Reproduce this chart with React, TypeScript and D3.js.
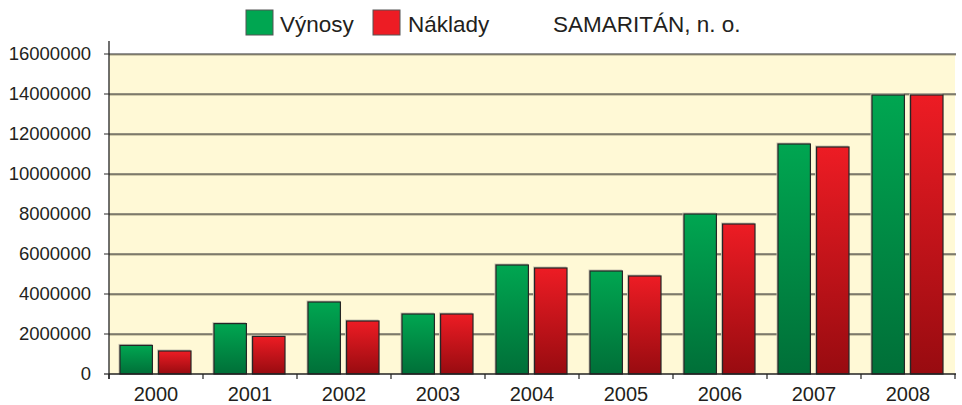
import React, { useEffect, useRef } from "react";
import * as d3 from "d3";

const years = ["2000", "2001", "2002", "2003", "2004", "2005", "2006", "2007", "2008"];
const vynosy = [1430000, 2520000, 3600000, 3000000, 5450000, 5150000, 8000000, 11500000, 13950000];
const naklady = [1150000, 1880000, 2650000, 3000000, 5300000, 4900000, 7500000, 11350000, 13950000];
const yTicks = [0, 2000000, 4000000, 6000000, 8000000, 10000000, 12000000, 14000000, 16000000];

export default function App() {
  const svgRef = useRef<SVGSVGElement>(null);

  useEffect(() => {
    const width = 962;
    const height = 405;
    const margin = { top: 54, right: 7, bottom: 31, left: 109 };
    const innerWidth = width - margin.left - margin.right;
    const innerHeight = height - margin.top - margin.bottom;

    const root = d3.select(svgRef.current);
    root.selectAll("*").remove();
    root.attr("width", width).attr("height", height);

    const defs = root.append("defs");
    const grad = (id: string, top: string, bottom: string) => {
      const g = defs.append("linearGradient").attr("id", id)
        .attr("x1", 0).attr("y1", 0).attr("x2", 0).attr("y2", 1);
      g.append("stop").attr("offset", "0%").attr("stop-color", top);
      g.append("stop").attr("offset", "100%").attr("stop-color", bottom);
    };
    grad("gGreen", "#00a651", "#006f38");
    grad("gRed", "#ed1c24", "#980b10");

    const font = "Liberation Sans, Arial, sans-serif";

    const svg = root.append("g").attr("transform", `translate(${margin.left},${margin.top})`);

    const x = d3.scaleBand().domain(years).range([0, innerWidth]).paddingInner(0).paddingOuter(0);
    const inner = d3.scaleBand().domain(["v", "n"]).range([11, x.bandwidth() - 12]).paddingInner(0.16);
    const y = d3.scaleLinear().domain([0, 16000000]).range([innerHeight, 0]);

    // plot background
    svg.append("rect")
      .attr("x", 0).attr("y", 0)
      .attr("width", innerWidth).attr("height", innerHeight)
      .attr("fill", "#fff9d6");

    // gridlines
    yTicks.filter(t => t > 0).forEach(t => {
      svg.append("line")
        .attr("x1", 0).attr("x2", innerWidth + 1)
        .attr("y1", y(t) + 1).attr("y2", y(t) + 1)
        .attr("stroke", "#a39d80").attr("stroke-width", 1);
      svg.append("line")
        .attr("x1", -5).attr("x2", innerWidth + 1)
        .attr("y1", y(t)).attr("y2", y(t))
        .attr("stroke", "#2b2b2b").attr("stroke-width", 1.2);
    });

    // bars
    const groups = svg.selectAll(".yr")
      .data(years)
      .enter()
      .append("g")
      .attr("transform", d => `translate(${x(d)},0)`);

    const series = [
      { key: "v", values: vynosy, fill: "url(#gGreen)" },
      { key: "n", values: naklady, fill: "url(#gRed)" },
    ];
    series.forEach(s => {
      groups.append("rect")
        .attr("x", () => (inner(s.key) as number) - 1.5)
        .attr("y", (_, i) => y(s.values[i]) - 1.5)
        .attr("width", inner.bandwidth() + 1)
        .attr("height", (_, i) => innerHeight - y(s.values[i]) + 1.5)
        .attr("fill", "#c9c4b0");
      groups.append("rect")
        .attr("x", () => inner(s.key) as number)
        .attr("y", (_, i) => y(s.values[i]))
        .attr("width", inner.bandwidth())
        .attr("height", (_, i) => innerHeight - y(s.values[i]))
        .attr("fill", s.fill)
        .attr("stroke", "#262626")
        .attr("stroke-width", 1.2);
    });

    // y axis
    svg.append("line")
      .attr("x1", 0).attr("x2", 0)
      .attr("y1", -13).attr("y2", innerHeight + 5)
      .attr("stroke", "#222").attr("stroke-width", 1.3);
    svg.append("line")
      .attr("x1", -5).attr("x2", 0)
      .attr("y1", innerHeight).attr("y2", innerHeight)
      .attr("stroke", "#222").attr("stroke-width", 1.2);

    svg.selectAll(".ylab")
      .data(yTicks)
      .enter()
      .append("text")
      .attr("x", -18)
      .attr("y", d => y(d) + 6)
      .attr("text-anchor", "end")
      .style("font-family", font)
      .style("font-size", "18.5px")
      .attr("fill", "#231f20")
      .text(d => String(d));

    // x axis
    svg.append("line")
      .attr("x1", 0).attr("x2", innerWidth + 1)
      .attr("y1", innerHeight).attr("y2", innerHeight)
      .attr("stroke", "#222").attr("stroke-width", 1.3);
    const xt = [...years.map(d => x(d) as number), innerWidth];
    xt.forEach(v => {
      svg.append("line")
        .attr("x1", v).attr("x2", v)
        .attr("y1", innerHeight).attr("y2", innerHeight + 5)
        .attr("stroke", "#222").attr("stroke-width", 1.2);
    });

    svg.selectAll(".xlab")
      .data(years)
      .enter()
      .append("text")
      .attr("x", d => (x(d) as number) + x.bandwidth() / 2)
      .attr("y", innerHeight + 27)
      .attr("text-anchor", "middle")
      .style("font-family", font)
      .style("font-size", "20px")
      .attr("fill", "#231f20")
      .text(d => d);

    // legend
    const legend = root.append("g");
    const items = [
      { label: "Výnosy", color: "#00a651", x: 246, tx: 280 },
      { label: "Náklady", color: "#ed1c24", x: 373, tx: 408 },
    ];
    items.forEach(it => {
      legend.append("rect")
        .attr("x", it.x).attr("y", 10)
        .attr("width", 27).attr("height", 25)
        .attr("fill", it.color)
        .attr("stroke", "#555").attr("stroke-width", 1);
      legend.append("text")
        .attr("x", it.tx).attr("y", 32)
        .style("font-family", font)
        .style("font-size", "22.5px")
        .attr("fill", "#231f20")
        .text(it.label);
    });
    legend.append("text")
      .attr("x", 553).attr("y", 32)
      .style("font-family", font)
      .style("font-size", "22.5px")
      .attr("fill", "#231f20")
      .text("SAMARITÁN, n. o.");
  }, []);

  return (
    <div style={{ position: "absolute", left: 0, top: 0 }}>
      <svg ref={svgRef}></svg>
    </div>
  );
}
